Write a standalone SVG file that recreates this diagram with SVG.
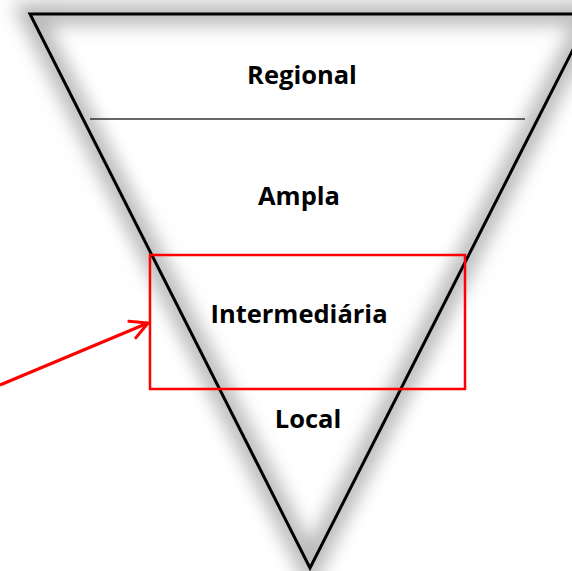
<svg xmlns="http://www.w3.org/2000/svg" width="572" height="571" viewBox="0 0 572 571">
<defs>
<filter id="blur" x="-20%" y="-20%" width="140%" height="140%"><feGaussianBlur stdDeviation="9"/></filter>
<marker id="arr" viewBox="0 0 24 24" refX="21" refY="12" markerWidth="24" markerHeight="24" markerUnits="userSpaceOnUse" orient="auto"><path d="M4,3 L21,12 L4,21" fill="none" stroke="#ff0000" stroke-width="3" stroke-linecap="round" stroke-linejoin="round"/></marker>
<style>
.lbl{font-family:"Open Sans","Liberation Sans",sans-serif;font-weight:bold;font-size:25.5px;fill:#000;text-anchor:middle}
</style>
</defs>
<rect width="572" height="571" fill="#fff"/>
<g id="funnel">
<path d="M30,14 L591,14 L310,568 Z" fill="none" stroke="#b8b8b8" stroke-width="22" filter="url(#blur)"/>
<path d="M30,14 L591,14 L310,568 Z" fill="none" stroke="#000" stroke-width="3" stroke-linejoin="miter"/>
<line x1="90" y1="119" x2="525" y2="119" stroke="#333" stroke-width="1.5"/>
</g>
<g id="regional"><text class="lbl" x="302" y="84">Regional</text></g>
<g id="ampla"><text class="lbl" x="299" y="205">Ampla</text></g>
<g id="intermediaria"><text class="lbl" x="299" y="323">Intermediária</text></g>
<g id="local"><text class="lbl" x="308" y="428">Local</text></g>
<g id="highlight"><rect x="150" y="255" width="315" height="134" fill="none" stroke="#ff0000" stroke-width="2.5"/></g>
<g id="connectors"><line x1="0" y1="385" x2="148" y2="323" stroke="#ff0000" stroke-width="3" marker-end="url(#arr)"/></g>
</svg>
